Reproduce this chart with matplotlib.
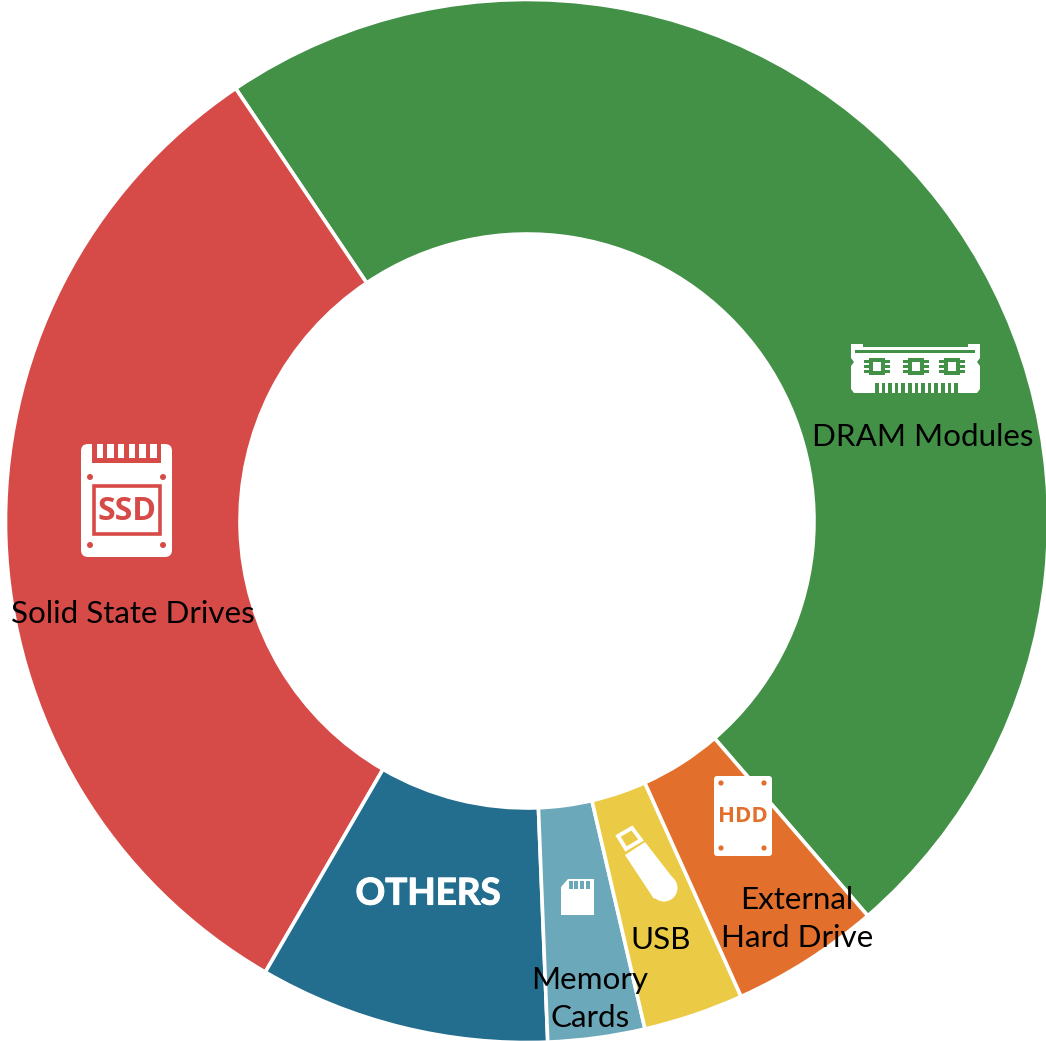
#!/usr/bin/env python3
import matplotlib
matplotlib.use('Agg')
import matplotlib.pyplot as plt
import matplotlib.patheffects as pe
from matplotlib.patches import Circle, FancyBboxPatch, Polygon, Rectangle

W, H = 1046, 1041

categories = ['DRAM Modules', 'Solid State Drives', 'OTHERS', 'Memory\nCards', 'USB',
              'External\nHard Drive']
shares = [48.1, 32.2, 9.0, 3.0, 3.1, 4.6]
colors = ['#429147', '#D64B47', '#236D8E', '#6BA9BA', '#EBCB45', '#E2702C']
start = 310.8

plt.rcParams['font.family'] = ['Lato', 'DejaVu Sans']

fig = plt.figure(figsize=(W / 100, H / 100), dpi=100)

# ring, center about (527,521) px, outer radius 520 px
ax = fig.add_axes([7 / W, 0, 1040 / W, 1040 / H])
ax.pie(shares, colors=colors, startangle=start, radius=521.5 / 520, counterclock=True,
       wedgeprops=dict(width=(521.5 - 287) / 520, edgecolor='white', linewidth=2.6))
ax.set_xlim(-1, 1)
ax.set_ylim(-1, 1)

# overlay in picture pixels for icons and labels
ov = fig.add_axes([0, 0, 1, 1])
ov.set_xlim(0, W)
ov.set_ylim(H, 0)
ov.axis('off')


def rbox(x0, y0, x1, y1, r, color='white', z=3):
    ov.add_patch(FancyBboxPatch((x0 + r, y0 + r), x1 - x0 - 2 * r, y1 - y0 - 2 * r,
                                boxstyle='round,pad=%f' % r, fc=color, ec='none', zorder=z))


def rect(x0, y0, x1, y1, color, z=4):
    ov.add_patch(Rectangle((x0, y0), x1 - x0, y1 - y0, fc=color, ec='none', zorder=z))


def dot(x, y, r, color):
    ov.add_patch(Circle((x, y), r, fc=color, ec='none', zorder=4))


# DRAM icon
green = colors[0]
ov.add_patch(Polygon([(851, 344), (863, 344), (863, 347), (968, 347), (968, 344), (980, 344),
                      (980, 358), (977, 362), (980, 366), (980, 389), (977, 393), (854, 393),
                      (851, 389), (851, 366), (854, 362), (851, 358)],
                     fc='white', ec='none', zorder=3))
rect(855, 350, 975, 353, green)
for cx in (877, 916, 952):
    rect(cx - 8, 358, cx + 8, 375, green)
    rect(cx - 4, 362, cx + 4, 371, 'white', 5)
    for yy in (359.5, 364.5, 369.5):
        rect(cx - 13, yy, cx + 13, yy + 3, green)
for i in range(13):
    rect(875 + i * 6.6, 383, 878.6 + i * 6.6, 393, green)

# SSD icon
red = colors[1]
rbox(81, 444, 172, 557, 7)
rect(92, 444, 161, 463, red)
for i in range(6):
    rect(96.5 + i * 10.7, 444, 103 + i * 10.7, 458, 'white', 5)
for x, y in ((90, 477), (163, 477), (90, 545), (163, 545)):
    dot(x, y, 3, red)
ov.add_patch(Rectangle((94, 486), 66, 48, fc='none', ec=red, lw=2.6, zorder=4))
ov.text(127, 511, 'SSD', color=red, fontsize=23, fontweight='bold', family='Open Sans',
        ha='center', va='center', zorder=5)

# HDD icon
orange = colors[5]
rbox(714, 776, 772, 856, 3)
for x, y in ((721, 783), (764, 783), (721, 848), (764, 848)):
    dot(x, y, 2.6, orange)
ov.text(743, 816, 'HDD', color=orange, fontsize=16, fontweight='bold', family='Open Sans',
        ha='center', va='center', zorder=5)

# memory card icon
ov.add_patch(Polygon([(561, 887), (568, 879), (594, 879), (594, 915), (561, 915)],
                     fc='white', ec='none', zorder=3))
for i in range(4):
    rect(568.5 + i * 5.7, 881, 572.5 + i * 5.7, 889, colors[3])

# USB stick icon
ov.add_patch(Polygon([(618, 836), (632, 828), (641, 840), (626, 849)],
                     fc='none', ec='white', lw=2.8, zorder=3))
ov.add_patch(Polygon([(625, 855), (645, 842), (676, 882), (654, 899)],
                     fc='white', ec='none', zorder=3))
dot(664, 888, 13.5, 'white')

# labels
label_pos = [(923, 437), (133, 614), (428, 894), (590, 999), (661, 940), (797, 919)]
for name, (x, y) in zip(categories, label_pos):
    if name == 'OTHERS':
        ov.text(x, y, name, color='white', fontsize=26.5, fontweight='bold', ha='center',
                va='center', zorder=6,
                path_effects=[pe.withStroke(linewidth=0.8, foreground='white')])
    else:
        ov.text(x, y, name, color='black', fontsize=22.6, ha='center', va='center',
                linespacing=1.42, zorder=6)

fig.savefig('out.png', dpi=100)
